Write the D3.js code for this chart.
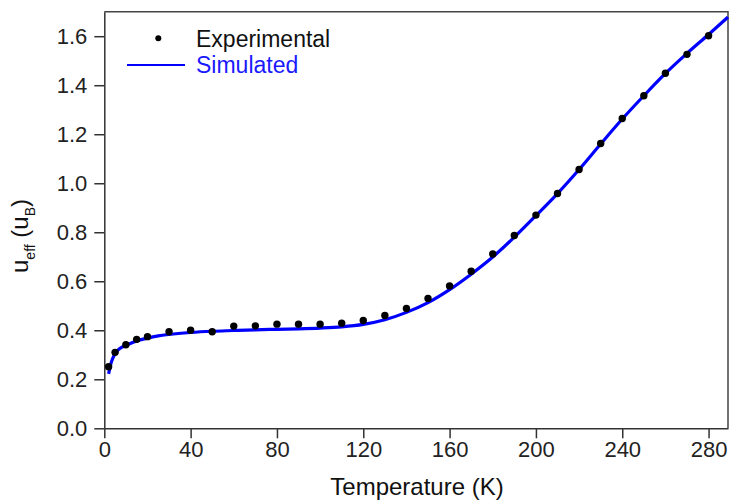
<!DOCTYPE html>
<html>
<head>
<meta charset="utf-8">
<script src="https://cdn.jsdelivr.net/npm/d3@7"></script>
<style>
  body { margin: 0; background: #fff; }
  svg { display: block; font-family: "Liberation Sans", Arial, sans-serif; }
</style>
</head>
<body>
<div id="chart"></div>
<script>
// Experimental data
const expT = [2, 5, 10, 15, 20, 30, 40, 50, 60, 70, 80, 90, 100, 110, 120, 130, 140, 150, 160, 170, 180, 190, 200, 210, 220, 230, 240, 250, 260, 270, 280];
const expV = [0.251, 0.31, 0.341, 0.363, 0.374, 0.394, 0.40, 0.394, 0.417, 0.418, 0.425, 0.425, 0.425, 0.429, 0.44, 0.46, 0.489, 0.53, 0.581, 0.641, 0.711, 0.787, 0.87, 0.958, 1.056, 1.162, 1.264, 1.357, 1.449, 1.526, 1.602];

// Simulated curve
const simT = [2, 3, 4, 5, 6, 8, 10, 12, 15, 20, 25, 30, 40, 50, 60, 70, 80, 90, 100, 110, 120, 130, 140, 150, 160, 170, 180, 190, 200, 210, 220, 230, 240, 250, 260, 270, 280, 289];
const simV = [0.222, 0.262, 0.287, 0.305, 0.316, 0.330, 0.338, 0.346, 0.356, 0.368, 0.377, 0.383, 0.391, 0.396, 0.399, 0.402, 0.404, 0.406, 0.409, 0.414, 0.424, 0.443, 0.473, 0.513, 0.566, 0.629, 0.699, 0.780, 0.868, 0.958, 1.056, 1.160, 1.262, 1.357, 1.448, 1.530, 1.607, 1.678];

const xTicks = [0, 40, 80, 120, 160, 200, 240, 280];
const yTicks = [0.0, 0.2, 0.4, 0.6, 0.8, 1.0, 1.2, 1.4, 1.6];

const W = 730, H = 502;
const m = { left: 104.3, right: 728, top: 11.7, bottom: 428.3 };

const svg = d3.select("#chart").append("svg")
    .attr("width", W)
    .attr("height", H);

const x = d3.scaleLinear().domain([0, 289]).range([m.left, m.right]);
const y = d3.scaleLinear().domain([0, 1.7]).range([m.bottom, m.top]);

// frame (top and right)
svg.append("path")
    .attr("d", `M${m.left},${m.top}H${m.right}V${m.bottom}`)
    .attr("fill", "none")
    .attr("stroke", "#444")
    .attr("stroke-width", 1.5);

// X axis
const xAxis = svg.append("g")
    .attr("transform", `translate(0,${m.bottom})`)
    .call(d3.axisBottom(x).tickValues(xTicks).tickSize(10).tickPadding(3).tickSizeOuter(0));
xAxis.select(".domain").attr("stroke", "#333").attr("stroke-width", 1.5);
xAxis.selectAll(".tick line").attr("stroke", "#333").attr("stroke-width", 1.5);
xAxis.selectAll(".tick text").attr("fill", "#222").style("font-size", "22px");

// Y axis
const yAxis = svg.append("g")
    .attr("transform", `translate(${m.left},0)`)
    .call(d3.axisLeft(y).tickValues(yTicks).tickFormat(d3.format(".1f")).tickSize(10).tickPadding(7).tickSizeOuter(0));
yAxis.select(".domain").attr("stroke", "#333").attr("stroke-width", 1.5);
yAxis.selectAll(".tick line").attr("stroke", "#333").attr("stroke-width", 1.5);
yAxis.selectAll(".tick text").attr("fill", "#222").style("font-size", "22px");

// Simulated line
const simData = simT.map((t, i) => ({ t, v: simV[i] }));
svg.append("path")
    .datum(simData)
    .attr("fill", "none")
    .attr("stroke", "#0000ff")
    .attr("stroke-width", 3.2)
    .attr("d", d3.line().x(d => x(d.t)).y(d => y(d.v)).curve(d3.curveMonotoneX));

// Experimental points
const expData = expT.map((t, i) => ({ t, v: expV[i] }));
svg.append("g").selectAll("circle")
    .data(expData)
    .enter().append("circle")
    .attr("cx", d => x(d.t))
    .attr("cy", d => y(d.v))
    .attr("r", 3.7)
    .attr("fill", "#000");

// Legend
const legend = svg.append("g");
legend.append("circle")
    .attr("cx", 158.3)
    .attr("cy", 38.3)
    .attr("r", 3)
    .attr("fill", "#000");
legend.append("text")
    .attr("x", 196)
    .attr("y", 47)
    .attr("fill", "#111")
    .style("font-size", "23px")
    .text("Experimental");
legend.append("line")
    .attr("x1", 127).attr("x2", 185)
    .attr("y1", 65).attr("y2", 65)
    .attr("stroke", "#0000ff")
    .attr("stroke-width", 2);
legend.append("text")
    .attr("x", 196)
    .attr("y", 73)
    .attr("fill", "#1a1aff")
    .style("font-size", "23px")
    .text("Simulated");

// X title
svg.append("text")
    .attr("x", 417)
    .attr("y", 495)
    .attr("text-anchor", "middle")
    .attr("fill", "#111")
    .style("font-size", "24px")
    .text("Temperature (K)");

// Y title
const yt = svg.append("text")
    .attr("transform", "translate(28,236) rotate(-90)")
    .attr("text-anchor", "middle")
    .attr("fill", "#111")
    .style("font-size", "24px");
yt.append("tspan").text("u");
yt.append("tspan").attr("dy", 7).style("font-size", "14px").text("eff");
yt.append("tspan").attr("dy", -7).text(" (u");
yt.append("tspan").attr("dy", 7).style("font-size", "14px").text("B");
yt.append("tspan").attr("dy", -7).text(")");
</script>
</body>
</html>
